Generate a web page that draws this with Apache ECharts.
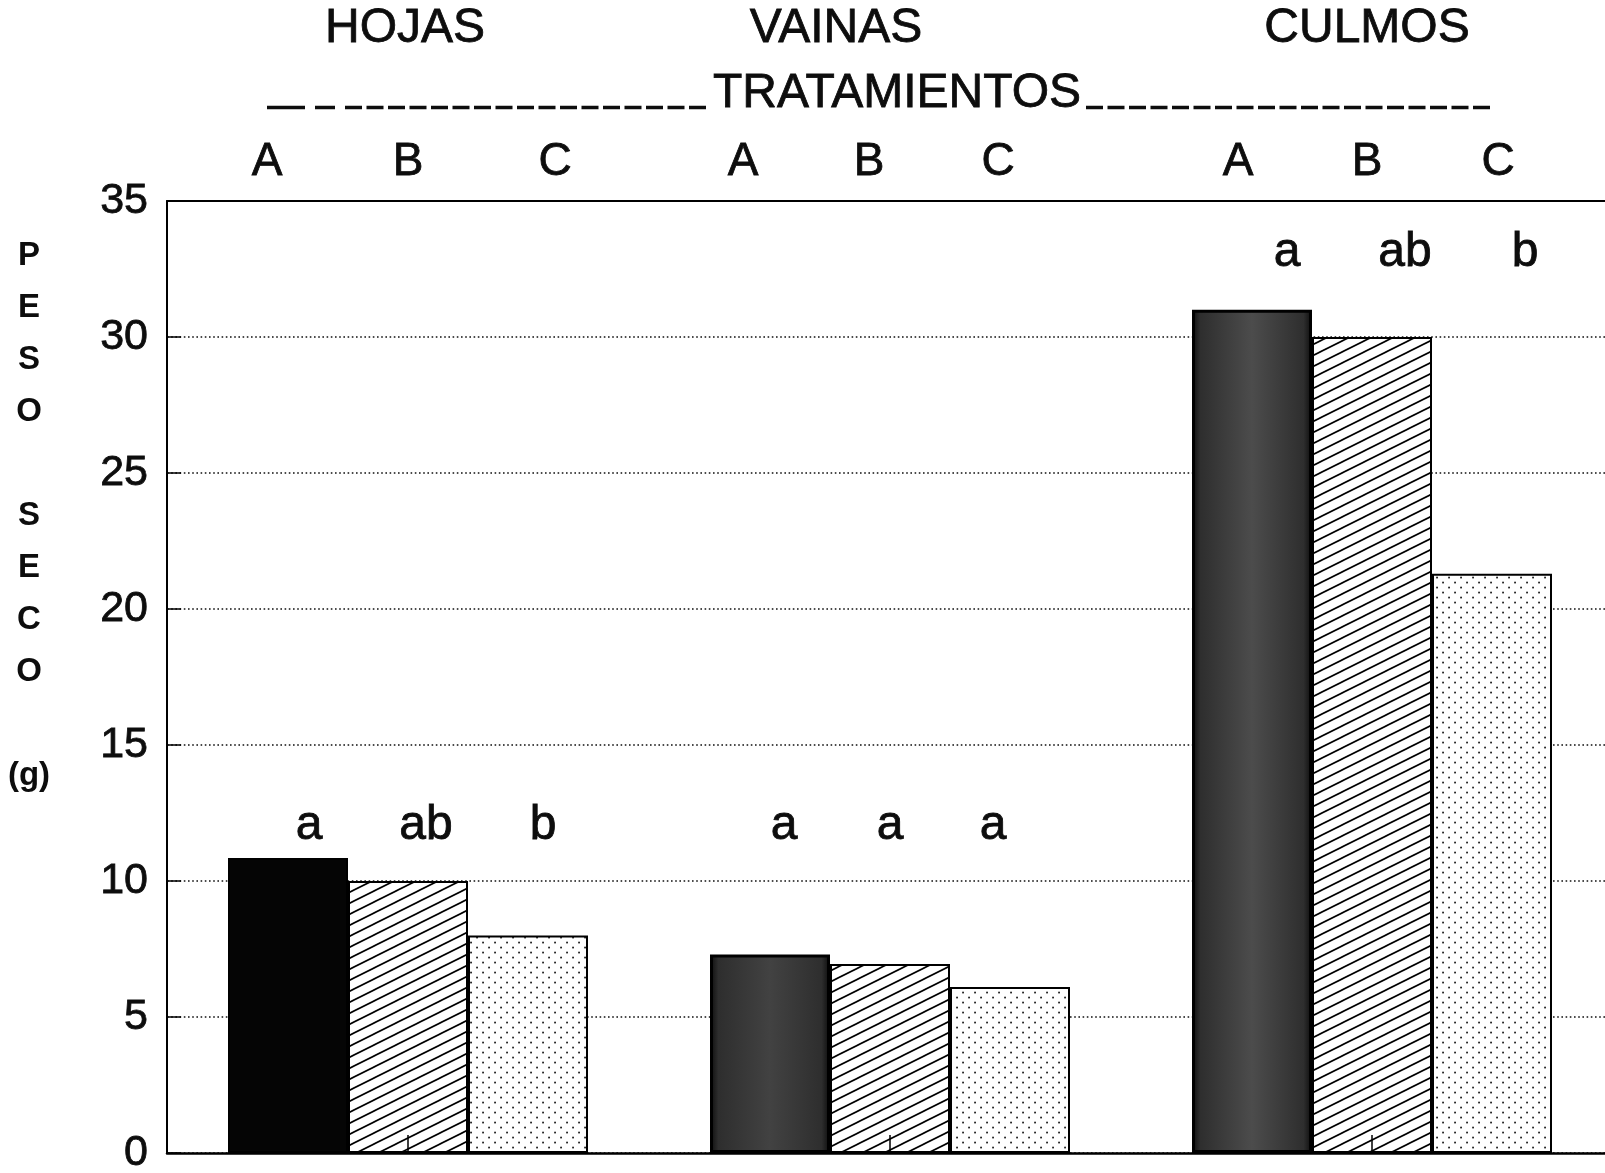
<!DOCTYPE html>
<html>
<head>
<meta charset="utf-8">
<script src="https://cdn.jsdelivr.net/npm/echarts@6/dist/echarts.min.js"></script>
<style>
  html, body { margin: 0; padding: 0; background: #ffffff; }
  #chart { width: 1605px; height: 1173px; }
</style>
</head>
<body>
<div id="chart"></div>
<script>
// Dry weight (g) per plant part and treatment
const categories = ['HOJAS', 'VAINAS', 'CULMOS'];
const treatments = ['A', 'B', 'C'];
const valuesA = [10.85, 7.3, 31.0];
const valuesB = [10.0, 6.95, 30.0];
const valuesC = [8.0, 6.1, 21.3];
// Significance letters per treatment (one per plant part)
const lettersA = ['a', 'a', 'a'];
const lettersB = ['ab', 'a', 'ab'];
const lettersC = ['b', 'a', 'b'];
// Value-axis ticks
const yTicks = [0, 5, 10, 15, 20, 25, 30, 35];
// Texts around the plot
const axisTitle = 'TRATAMIENTOS';
const yTitle = ['P', 'E', 'S', 'O', '', 'S', 'E', 'C', 'O', '', '(g)'];

const FONT = '"Liberation Sans", Arial, Helvetica, sans-serif';
const INK = '#0d0d0d';
const THICK = { textBorderColor: INK, textBorderWidth: 0.8 };

// ---- fill patterns ----
function hatchTile() {
  const c = document.createElement('canvas');
  c.width = 22; c.height = 11;
  const g = c.getContext('2d');
  g.fillStyle = '#ffffff';
  g.fillRect(0, 0, 22, 11);
  g.strokeStyle = '#000000';
  g.lineWidth = 1.7;
  for (const k of [-1, 0, 1]) {
    g.beginPath();
    g.moveTo(-2, 12 + k * 11);
    g.lineTo(24, -1 + k * 11);
    g.stroke();
  }
  return c;
}
function dotTile() {
  const c = document.createElement('canvas');
  c.width = 12; c.height = 10;
  const g = c.getContext('2d');
  g.fillStyle = '#ffffff';
  g.fillRect(0, 0, 12, 10);
  g.fillStyle = '#111111';
  g.fillRect(2.2, 1.7, 1.7, 1.7);
  g.fillRect(8.2, 6.7, 1.7, 1.7);
  return c;
}
const darkGray = (mid) => ({
  type: 'linear', x: 0, y: 0, x2: 1, y2: 0,
  colorStops: [
    { offset: 0, color: '#0c0c0c' },
    { offset: 0.07, color: '#2e2e2e' },
    { offset: 0.5, color: mid },
    { offset: 0.93, color: '#2e2e2e' },
    { offset: 1, color: '#0c0c0c' }
  ]
});
const fillsA = ['#050505', darkGray('#424242'), darkGray('#4c4c4c')];
const fillB = { image: hatchTile(), repeat: 'repeat' };
const fillC = { image: dotTile(), repeat: 'repeat' };

// ---- letter placement (heights in value units, nudges in px) ----
const yMax = yTicks[yTicks.length - 1];
const SIG_LEVEL = [12.05, 12.05, 33.15];
const TOP_DX = [[-21, -27, -14], [0, -21, -5], [27, -12, 6]];
const SIG_DX = [[21, 14, 35], [18, 0, 33], [15, -17, 33]];
const HEAD_DX = [-3, -54, -5];

function letterMarks(s, letters) {
  const out = [];
  categories.forEach((c, i) => {
    out.push({
      coord: [i, yMax],
      label: { formatter: treatments[s], offset: [TOP_DX[s][i], -38.5], fontSize: 46 }
    });
    out.push({
      coord: [i, SIG_LEVEL[i]],
      label: { formatter: letters[i], offset: [SIG_DX[s][i], 1], fontSize: 48 }
    });
  });
  return {
    silent: true,
    symbol: 'circle',
    symbolSize: 1,
    itemStyle: { color: 'rgba(0,0,0,0)' },
    label: Object.assign({ show: true, position: 'inside', color: INK, fontFamily: FONT }, THICK),
    emphasis: { disabled: true },
    data: out
  };
}

function barSeries(s, values, letters, fillFor) {
  return {
    type: 'bar',
    name: treatments[s],
    xAxisIndex: 0,
    barWidth: 120,
    barGap: '0%',
    clip: false,
    z: 2,
    emphasis: { disabled: true },
    data: values.map((v, i) => ({
      value: v,
      itemStyle: { color: fillFor(i), borderColor: '#000000', borderWidth: s === 0 && i > 0 ? 3 : 2 }
    })),
    markPoint: letterMarks(s, letters)
  };
}

const chart = echarts.init(document.getElementById('chart'), null, { renderer: 'canvas' });

chart.setOption({
  animation: false,
  backgroundColor: '#ffffff',
  grid: { left: 167, right: -8, top: 201, bottom: 20, containLabel: false, outerBoundsMode: 'none' },
  xAxis: [
    {
      type: 'category',
      position: 'bottom',
      data: categories,
      z: 5,
      axisLine: { show: true, lineStyle: { color: '#000000', width: 2.5 } },
      axisTick: { show: true, inside: true, alignWithLabel: true, length: 18, lineStyle: { color: '#000000', width: 1.5 } },
      axisLabel: { show: false },
      splitLine: { show: false }
    },
    {
      type: 'category',
      position: 'top',
      data: categories,
      axisLine: { show: true, lineStyle: { color: '#000000', width: 2 } },
      axisTick: { show: false },
      axisLabel: { show: false },
      splitLine: { show: false }
    }
  ],
  yAxis: {
    type: 'value',
    min: yTicks[0],
    max: yMax,
    interval: yTicks[1] - yTicks[0],
    axisLine: { show: true, lineStyle: { color: '#000000', width: 2 } },
    axisTick: { show: true, inside: true, length: 14, lineStyle: { color: '#000000', width: 1.5 } },
    axisLabel: Object.assign({ margin: 19, fontSize: 43, color: INK, fontFamily: FONT }, THICK),
    splitLine: { show: true, lineStyle: { color: '#111111', width: 1.6, type: [1.6, 2.6] } }
  },
  series: [
    barSeries(0, valuesA, lettersA, (i) => fillsA[i]),
    barSeries(1, valuesB, lettersB, () => fillB),
    barSeries(2, valuesC, lettersC, () => fillC)
  ]
});

// Headings over each category, the treatments title with its dashed rule,
// and the stacked vertical y-axis title.
const headX = categories.map((c, i) => chart.convertToPixel({ xAxisIndex: 0 }, i) + HEAD_DX[i]);
const textStyle = (size, weight) => ({
  font: (weight || 'normal') + ' ' + size + 'px ' + FONT,
  fill: INK, stroke: INK, lineWidth: 0.8,
  align: 'center', verticalAlign: 'middle'
});
const dash = (x1, x2, pattern) => ({
  type: 'line', silent: true,
  shape: { x1: x1, y1: 107.5, x2: x2, y2: 107.5 },
  style: { stroke: INK, lineWidth: 3.5, lineDash: pattern || null }
});

chart.setOption({
  graphic: [
    ...categories.map((c, i) => ({
      type: 'text', silent: true, x: headX[i], y: 29,
      style: Object.assign({ text: c }, textStyle(48))
    })),
    {
      type: 'text', silent: true, x: 897, y: 94,
      style: Object.assign({ text: axisTitle }, textStyle(48))
    },
    dash(267, 305),
    dash(315, 335),
    dash(345, 709, [17, 4.5]),
    dash(1086, 1492, [17, 4.5]),
    {
      type: 'text', x: 29, y: 230, silent: true,
      style: {
        text: yTitle.join('\n'),
        font: 'bold 33px ' + FONT, fill: INK,
        align: 'center', verticalAlign: 'top', lineHeight: 52
      }
    }
  ]
});
</script>
</body>
</html>
